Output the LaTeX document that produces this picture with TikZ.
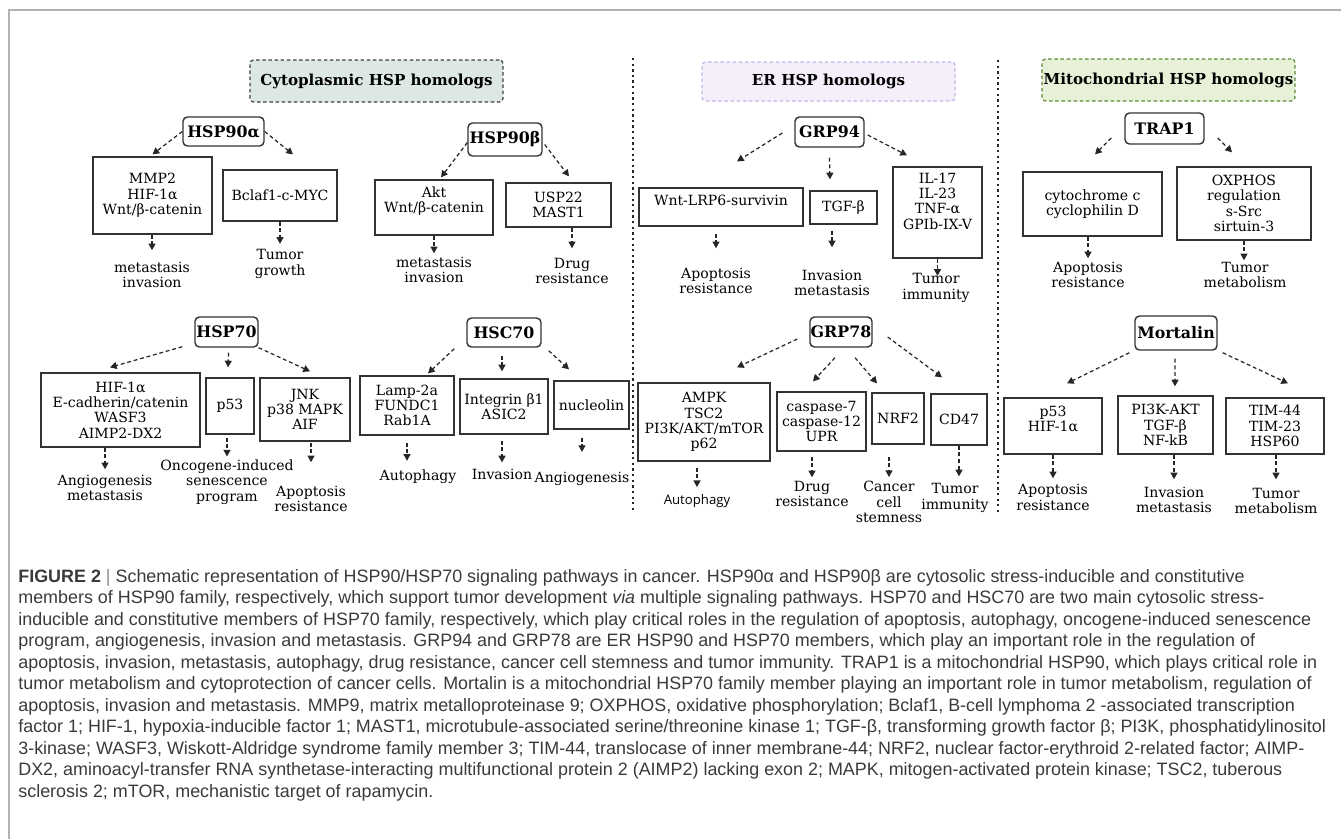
\documentclass[tikz,border=0pt]{standalone}
\usepackage{fontspec}
\setmainfont{DejaVu Serif}
\setsansfont{Open Sans}
\newfontfamily\capfont{Liberation Sans}
\usetikzlibrary{arrows.meta,calc}

\newlength\pxu
\setlength\pxu{0.02cm}

\definecolor{cytofill}{HTML}{DDE8E4}
\definecolor{erfill}{HTML}{F4EFFB}
\definecolor{erline}{HTML}{C6B2E6}
\definecolor{mitofill}{HTML}{E6F1D7}
\definecolor{mitoline}{HTML}{5C8A36}
\definecolor{capgray}{HTML}{3A3A3A}

\tikzset{
  hsp/.style={draw=black!80, line width=0.8pt, rounded corners=2.5pt, inner sep=0pt,
    font=\fontsize{9}{10}\selectfont\bfseries},
  target/.style={draw=black!80, line width=0.75pt, inner sep=0pt, align=center,
    font=\fontsize{8}{8.7}\selectfont},
  effect/.style={inner sep=0pt, align=center, font=\fontsize{8}{8.7}\selectfont},
  flow/.style={black!85, line width=0.7pt, dash pattern=on 2.2pt off 1.6pt,
    -{Triangle[length=3.8pt,width=4pt]}},
  region/.style={line width=0.7pt, dash pattern=on 2pt off 1.5pt, rounded corners=2pt,
    minimum width=5.06cm, inner sep=0pt, font=\fontsize{8.6}{10}\selectfont\bfseries},
  divider/.style={black!85, line width=1pt, dash pattern=on 1.3pt off 1.9pt},
  capline/.style={anchor=base west, inner sep=0pt, text=capgray,
    font=\capfont\fontsize{10.2}{12.2}\selectfont}
}

\begin{document}
\begin{tikzpicture}[x=0.02cm, y=-0.02cm]
\useasboundingbox (0,0) rectangle (1341,839);
\draw[black!30, line width=0.6pt] (9,839) -- (9,10) -- (1341,10);

% compartments
\node[region, draw=black!75, fill=cytofill, minimum height=0.84cm] (cyto) at (376.5,81) {Cytoplasmic HSP homologs};
\node[region, draw=erline, fill=erfill, minimum height=0.78cm] (er) at (828.5,81.5) {ER HSP homologs};
\node[region, draw=mitoline, fill=mitofill, minimum height=0.84cm] (mito) at (1168.5,80) {Mitochondrial HSP homologs};

\draw[divider] (633,58) -- (633,512);
\draw[divider] (998,60) -- (998,512);

% HSP90 alpha / beta
\node[hsp, minimum width=1.62cm, minimum height=0.58cm] (hsp90a) at (223.5,131.5) {HSP90α};
\node[target, minimum width=2.38cm, minimum height=1.54cm] (mmp) at (152.5,195.5) {MMP2\\HIF-1α\\Wnt/β-catenin};
\node[target, minimum width=2.28cm, minimum height=1.02cm] (bclaf) at (280,195.5) {Bclaf1-c-MYC};
\node[effect] (mmpout) at (152,275) {metastasis\\invasion};
\node[effect] (bclafout) at (280,264) {Tumor\\growth};

\node[hsp, minimum width=1.48cm, minimum height=0.66cm] (hsp90b) at (505,139.5) {HSP90β};
\node[target, minimum width=2.36cm, minimum height=1.10cm, text height=14.7pt, text depth=9.2pt] (akt) at (434,207.5) {Akt\\Wnt/β-catenin};
\node[target, minimum width=2.10cm, minimum height=0.88cm] (usp) at (558.5,205) {USP22\\MAST1};
\node[effect] (aktout) at (434,270) {metastasis\\invasion};
\node[effect] (uspout) at (572,271) {Drug\\resistance};

% HSP70 / HSC70
\node[hsp, minimum width=1.26cm, minimum height=0.60cm] (hsp70) at (226.5,332) {HSP70};
\node[target, minimum width=3.18cm, minimum height=1.48cm] (hif) at (120.5,410) {HIF-1α\\E-cadherin/catenin\\WASF3\\AIMP2-DX2};
\node[target, minimum width=0.96cm, minimum height=1.12cm] (p53) at (230,406) {p53};
\node[target, minimum width=1.80cm, minimum height=1.26cm] (jnk) at (305,409.5) {JNK\\p38 MAPK\\AIF};
\node[effect] (hifout) at (105,488) {Angiogenesis\\metastasis};
\node[effect] (p53out) at (227,482) {Oncogene-induced\\senescence\\program};
\node[effect] (jnkout) at (311,499) {Apoptosis\\resistance};

\node[hsp, minimum width=1.48cm, minimum height=0.58cm] (hsc70) at (504,332.5) {HSC70};
\node[target, minimum width=1.88cm, minimum height=1.18cm] (lamp) at (407,405.5) {Lamp-2a\\FUNDC1\\Rab1A};
\node[target, minimum width=1.76cm, minimum height=1.10cm] (integ) at (504,406.5) {Integrin β1\\ASIC2};
\node[target, minimum width=1.50cm, minimum height=0.96cm] (nucl) at (591.5,405) {nucleolin};
\node[effect] (lampout) at (418,477) {Autophagy};
\node[effect] (integout) at (502,474) {Invasion};
\node[effect] (nuclout) at (582,479) {Angiogenesis};

% GRP94 / GRP78
\node[hsp, minimum width=1.38cm, minimum height=0.60cm] (grp94) at (829.5,132) {GRP94};
\node[target, minimum width=3.28cm, minimum height=0.76cm, text height=6pt, text depth=8.2pt] (wnt) at (721,207) {Wnt-LRP6-survivin};
\node[target, minimum width=1.34cm, minimum height=0.66cm] (tgf) at (843.5,207.5) {TGF-β};
\node[target, minimum width=1.78cm, minimum height=1.82cm, text height=32pt, text depth=13pt] (il) at (937.5,212.5) {IL-17\\IL-23\\TNF-α\\GPIb-IX-V};
\node[effect] (wntout) at (716,281) {Apoptosis\\resistance};
\node[effect] (tgfout) at (832,283) {Invasion\\metastasis};
\node[effect] (ilout) at (936,288) {Tumor\\immunity};

\node[hsp, minimum width=1.24cm, minimum height=0.60cm] (grp78) at (841,332) {GRP78};
\node[target, minimum width=2.64cm, minimum height=1.56cm] (ampk) at (704,422) {AMPK\\TSC2\\PI3K/AKT/mTOR\\p62};
\node[target, minimum width=1.78cm, minimum height=1.18cm] (casp) at (821.5,421.5) {caspase-7\\caspase-12\\UPR};
\node[target, minimum width=1.04cm, minimum height=1.02cm] (nrf) at (898,418.5) {NRF2};
\node[target, minimum width=1.12cm, minimum height=1.02cm] (cd47) at (959,419.5) {CD47};
\node[effect, font=\sffamily\fontsize{7.5}{9}\selectfont] (ampkout) at (697,501) {Autophagy};
\node[effect] (caspout) at (812,494) {Drug\\resistance};
\node[effect] (nrfout) at (889,502) {Cancer\\cell\\stemness};
\node[effect] (cd47out) at (955,498) {Tumor\\immunity};

% TRAP1 / Mortalin
\node[hsp, minimum width=1.58cm, minimum height=0.62cm] (trap1) at (1164.5,128.5) {TRAP1};
\node[target, minimum width=2.78cm, minimum height=1.28cm] (cytc) at (1092.5,204) {cytochrome c\\cyclophilin D};
\node[target, minimum width=2.68cm, minimum height=1.46cm] (oxphos) at (1244,203.5) {OXPHOS\\regulation\\s-Src\\sirtuin-3};
\node[effect] (cytcout) at (1088,275) {Apoptosis\\resistance};
\node[effect] (oxphosout) at (1245,275) {Tumor\\metabolism};

\node[hsp, minimum width=1.64cm, minimum height=0.68cm] (mort) at (1176,333) {Mortalin};
\node[target, minimum width=1.96cm, minimum height=1.12cm, text height=14.7pt, text depth=8.2pt] (p53m) at (1053,426) {p53\\HIF-1α};
\node[target, minimum width=1.90cm, minimum height=1.16cm] (pi3k) at (1165.5,425) {PI3K-AKT\\TGF-β\\NF-kB};
\node[target, minimum width=1.96cm, minimum height=1.12cm] (tim) at (1275,426) {TIM-44\\TIM-23\\HSP60};
\node[effect] (p53mout) at (1053,497.5) {Apoptosis\\resistance};
\node[effect] (pi3kout) at (1174,500) {Invasion\\metastasis};
\node[effect] (timout) at (1276,501) {Tumor\\metabolism};

% arrows to targets
\draw[flow] (hsp90a.west) -- ($(mmp.north)+(0,-2)$);
\draw[flow] (hsp90a.east) -- ($(bclaf.north)+(13,-15)$);
\draw[flow] ($(hsp90b.west)+(0,3)$) -- ($(akt.north)+(7,-2)$);
\draw[flow] ($(hsp90b.east)+(2,5)$) -- ($(usp.north)+(10.5,-6)$);
\draw[flow] ($(hsp70.south west)+(-12,-1)$) -- ($(hif.north)+(-10.5,-5)$);
\draw[flow] ($(hsp70.south)+(2,5)$) -- ($(p53.north)+(-2,-10)$);
\draw[flow] (hsp70.south east) -- ($(jnk.north)+(5,-6)$);
\draw[flow] ($(hsc70.south west)+(-12,1)$) -- ($(lamp.north)+(21,-2)$);
\draw[flow] ($(hsc70.south)+(-2,8)$) -- ($(integ.north)+(-2,-7)$);
\draw[flow] ($(hsc70.south east)+(7,3)$) -- ($(nucl.north)+(-22.5,-11)$);
\draw[flow] ($(grp94.west)+(-12,1)$) -- ($(wnt.north)+(16,-26)$);
\draw[flow] ($(grp94.south)+(0,10)$) -- ($(tgf.north)+(-13.5,-11)$);
\draw[flow] ($(grp94.east)+(3,3)$) -- ($(il.north)+(-30.5,-11)$);
\draw[flow] ($(grp78.west)+(-12,7)$) -- ($(ampk.north)+(33,-15)$);
\draw[flow] ($(grp78.south)+(-6,10)$) -- ($(casp.north)+(-8.5,-10)$);
\draw[flow] ($(grp78.south)+(14,10)$) -- ($(nrf.north)+(-21,-9)$);
\draw[flow] ($(grp78.east)+(15,5)$) -- ($(cd47.north)+(-17,-16)$);
\draw[flow] ($(trap1.west)+(-13,9.5)$) -- ($(cytc.north)+(2.5,-17)$);
\draw[flow] ($(trap1.east)+(13,9.5)$) -- ($(oxphos.north)+(-12,-14)$);
\draw[flow] ($(mort.south west)+(-5,2)$) -- ($(p53m.north)+(14,-14)$);
\draw[flow] ($(mort.south)+(-1,8)$) -- ($(pi3k.north)+(9.5,-9)$);
\draw[flow] ($(mort.south east)+(5,2)$) -- ($(tim.north)+(13,-14)$);

% arrows to outcomes
\draw[flow, shorten >=11.5\pxu] (mmpout.north |- mmp.south) -- (mmpout.north);
\draw[flow, shorten >=5.5\pxu] (bclafout.north |- bclaf.south) -- (bclafout.north);
\draw[flow, shorten >=3.5\pxu] (aktout.north |- akt.south) -- (aktout.north);
\draw[flow, shorten >=9.5\pxu] (uspout.north |- usp.south) -- (uspout.north);
\draw[flow, shorten >=5.5\pxu] (hifout.north |- hif.south) -- (hifout.north);
\draw[flow, shorten <=3\pxu, shorten >=3\pxu] (p53out.north |- p53.south) -- (p53out.north);
\draw[flow, shorten <=1\pxu, shorten >=23.5\pxu] (jnkout.north |- jnk.south) -- (jnkout.north);
\draw[flow, shorten <=7\pxu, shorten >=9\pxu] (lamp.south) -- (lamp.south |- lampout.north);
\draw[flow, shorten <=6\pxu, shorten >=6\pxu] (integout.north |- integ.south) -- (integout.north);
\draw[flow, shorten <=8\pxu, shorten >=20\pxu] (nuclout.north |- nucl.south) -- (nuclout.north);
\draw[flow, shorten <=7\pxu, shorten >=19.5\pxu] (wntout.north |- wnt.south) -- (wntout.north);
\draw[flow, shorten <=6\pxu, shorten >=22.5\pxu] (tgfout.north |- tgf.south) -- (tgfout.north);
\draw[flow, shorten >=-2.5\pxu] (il.south) -- (il.south |- ilout.north);
\draw[flow, shorten <=6\pxu, shorten >=7\pxu] (ampkout.north |- ampk.south) -- (ampkout.north);
\draw[flow, shorten <=5\pxu, shorten >=3.5\pxu] (caspout.north |- casp.south) -- (caspout.north);
\draw[flow, shorten <=12\pxu, shorten >=4\pxu] (nrfout.north |- nrf.south) -- (nrfout.north);
\draw[flow, shorten >=7\pxu] (cd47.south) -- (cd47.south |- cd47out.north);
\draw[flow, shorten >=3.5\pxu] (cytcout.north |- cytc.south) -- (cytcout.north);
\draw[flow, shorten >=1.5\pxu] (oxphos.south) -- (oxphos.south |- oxphosout.north);
\draw[flow, shorten >=6\pxu] (p53mout.north |- p53m.south) -- (p53mout.north);
\draw[flow, shorten >=7.5\pxu] (pi3kout.north |- pi3k.south) -- (pi3kout.north);
\draw[flow, shorten >=8.5\pxu] (timout.north |- tim.south) -- (timout.north);

% caption
\node[capline] (cap1) at (18,582) {\textbf{FIGURE 2} {\color{black!45}|} Schematic representation of HSP90/HSP70 signaling pathways in cancer. HSP90α and HSP90β are cytosolic stress-inducible and constitutive};
\node[capline] (cap2) at (18,603.5) {members of HSP90 family, respectively, which support tumor development \textit{via} multiple signaling pathways. HSP70 and HSC70 are two main cytosolic stress-};
\node[capline] (cap3) at (18,625) {inducible and constitutive members of HSP70 family, respectively, which play critical roles in the regulation of apoptosis, autophagy, oncogene-induced senescence};
\node[capline] (cap4) at (18,646.5) {program, angiogenesis, invasion and metastasis. GRP94 and GRP78 are ER HSP90 and HSP70 members, which play an important role in the regulation of};
\node[capline] (cap5) at (18,668) {apoptosis, invasion, metastasis, autophagy, drug resistance, cancer cell stemness and tumor immunity. TRAP1 is a mitochondrial HSP90, which plays critical role in};
\node[capline] (cap6) at (18,689.5) {tumor metabolism and cytoprotection of cancer cells. Mortalin is a mitochondrial HSP70 family member playing an important role in tumor metabolism, regulation of};
\node[capline] (cap7) at (18,711) {apoptosis, invasion and metastasis. MMP9, matrix metalloproteinase 9; OXPHOS, oxidative phosphorylation; Bclaf1, B-cell lymphoma 2 -associated transcription};
\node[capline] (cap8) at (18,732.5) {factor 1; HIF-1, hypoxia-inducible factor 1; MAST1, microtubule-associated serine/threonine kinase 1; TGF-β, transforming growth factor β; PI3K, phosphatidylinositol};
\node[capline] (cap9) at (18,754) {3-kinase; WASF3, Wiskott-Aldridge syndrome family member 3; TIM-44, translocase of inner membrane-44; NRF2, nuclear factor-erythroid 2-related factor; AIMP-};
\node[capline] (cap10) at (18,775.5) {DX2, aminoacyl-transfer RNA synthetase-interacting multifunctional protein 2 (AIMP2) lacking exon 2; MAPK, mitogen-activated protein kinase; TSC2, tuberous};
\node[capline] (cap11) at (18,797) {sclerosis 2; mTOR, mechanistic target of rapamycin.};
\end{tikzpicture}
\end{document}
